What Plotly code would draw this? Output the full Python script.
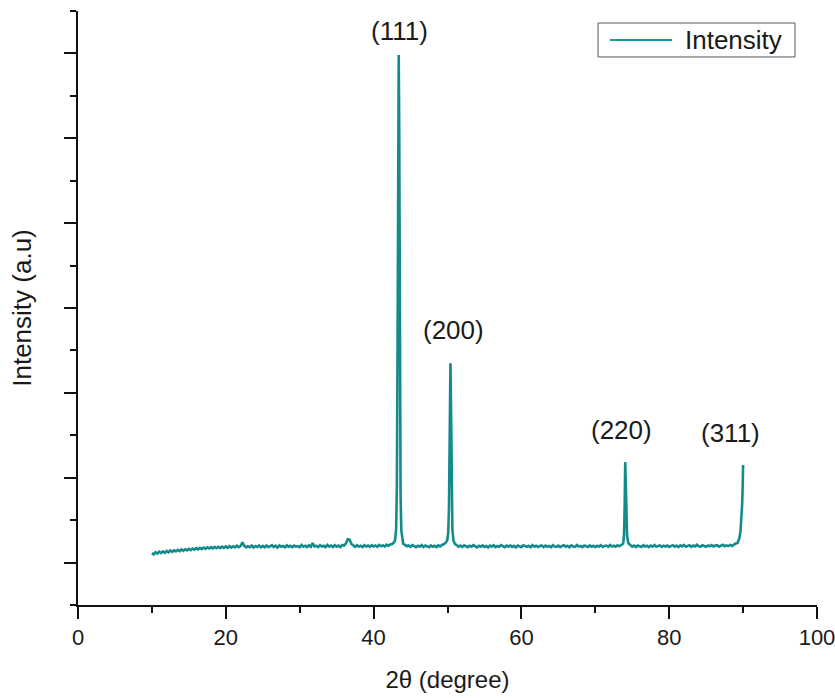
import plotly.graph_objects as go

# ---------------- data ----------------
scan_start = 10.0
scan_step = 0.25
# baseline intensity every 0.25 deg from 10 to 90 (None = covered by a peak list below)
base_10 = [612, 596, 622, 606, 627, 612, 632, 616, 637, 620, 642, 626, 644, 631, 650, 635, 654, 639, 657, 644]
base_15 = [662, 646, 666, 653, 670, 655, 674, 659, 677, 662, 680, 666, 682, 668, 684, 669, 686, 670, 688, 673]
base_20 = [690, 674, 694, 677, 692, 678, 699, 681, 694, 738, 697, 679, 692, 682, 700, 678, 695, 683, 702, 680]
base_25 = [696, 679, 701, 684, 692, 705, 682, 698, 677, 702, 686, 696, 680, 703, 685, 697, 681, 700, 687, 694]
base_30 = [681, 708, 688, 699, 682, 704, 686, 730, 688, 699, 683, 705, 689, 698, 682, 708, 687, 701, 684, 704]
base_35 = [688, 700, 684, 707, 700, 725, 775, 770, 720, 700, 686, 705, 688, 699, 684, 706, 690, 701, 685, 705]
base_40 = [690, 702, 686, 707, 692, 704, 688, 710, 696, 714, 718, 738, None, None, None, None, 722, 708, 693, 702]
base_45 = [686, 705, 689, 682, 699, 688, 707, 684, 701, 690, 681, 703, 687, 698, 683, 702, 690, 708, 715, 735]
base_50 = [None, None, None, None, 720, 704, 688, 700, 684, 703, 691, 682, 699, 687, 705, 688, 679, 697, 686, 702]
base_55 = [685, 696, 678, 700, 688, 704, 683, 695, 686, 706, 689, 681, 699, 687, 702, 684, 697, 679, 701, 688]
base_60 = [682, 703, 690, 686, 698, 681, 707, 688, 699, 684, 695, 702, 682, 700, 687, 696, 680, 705, 689, 685]
base_65 = [701, 683, 696, 704, 686, 698, 681, 702, 690, 685, 706, 688, 697, 682, 700, 689, 684, 703, 687, 698]
base_70 = [682, 699, 688, 705, 684, 696, 701, 686, 707, 690, 699, 687, 704, 692, 708, 722, None, None, 725, 706]
base_75 = [688, 700, 683, 702, 691, 685, 705, 689, 698, 682, 701, 688, 707, 686, 696, 703, 684, 699, 690, 702]
base_80 = [685, 697, 705, 688, 700, 682, 702, 691, 708, 687, 698, 704, 686, 701, 690, 710, 692, 688, 705, 695]
base_85 = [687, 702, 692, 707, 689, 700, 705, 688, 701, 709, 692, 703, 694, 708, 696, 714, 725, 732, None, None]
base_90 = [None]

# diffraction peaks (2theta, intensity)
peak_111_x = [42.9, 43.05, 43.15, 43.25, 43.33, 43.4, 43.47, 43.55, 43.65, 43.75, 43.9]
peak_111_y = [760, 900, 1400, 3200, 5800, 6480, 5600, 3000, 1300, 880, 740]
peak_200_x = [49.95, 50.1, 50.2, 50.3, 50.4, 50.48, 50.56, 50.66, 50.8]
peak_200_y = [760, 850, 1150, 2000, 2850, 2300, 1300, 900, 760]
peak_220_x = [73.8, 73.9, 73.97, 74.05, 74.12, 74.2, 74.3, 74.42]
peak_220_y = [740, 850, 1150, 1685, 1450, 1000, 820, 750]
peak_311_x = [89.3, 89.5, 89.65, 89.78, 89.88, 89.95, 90.0]
peak_311_y = [745, 790, 870, 1000, 1200, 1420, 1650]

peak_labels = ["(111)", "(200)", "(220)", "(311)"]
label_x = [43.5, 50.8, 73.6, 88.3]
label_y = [6764, 3241, 2062, 2027]

x_ticks = [0, 20, 40, 60, 80, 100]

# ---------------- assemble ----------------
baseline = (base_10 + base_15 + base_20 + base_25 + base_30 + base_35 + base_40 + base_45 +
            base_50 + base_55 + base_60 + base_65 + base_70 + base_75 + base_80 + base_85 + base_90)
pts = [(round(scan_start + scan_step * i, 2), v) for i, v in enumerate(baseline) if v is not None]
for px, py in [(peak_111_x, peak_111_y), (peak_200_x, peak_200_y),
               (peak_220_x, peak_220_y), (peak_311_x, peak_311_y)]:
    pts += list(zip(px, py))
pts.sort(key=lambda p: p[0])
xs = [p[0] for p in pts]
ys = [p[1] for p in pts]

LINE = "#138b8b"
SANS = "Liberation Sans, Arial, sans-serif"

fig = go.Figure()
fig.add_trace(go.Scatter(x=xs, y=ys, mode="lines", name="Intensity",
                         line=dict(color=LINE, width=2.6), showlegend=False))

for t, lx, ly in zip(peak_labels, label_x, label_y):
    fig.add_annotation(x=lx, y=ly, xref="x", yref="y", text=t, showarrow=False,
                       xanchor="center", yanchor="middle",
                       font=dict(family=SANS, size=26, color="#1a1a1a"))

# legend drawn as a box
fig.add_shape(type="rect", xref="paper", yref="paper", x0=0.7037, x1=0.9702, y0=0.9226, y1=0.9798,
              line=dict(color="#555555", width=1), fillcolor="white")
fig.add_shape(type="line", xref="paper", yref="paper", x0=0.7199, x1=0.8038, y0=0.9512, y1=0.9512,
              line=dict(color="#1a9a9a", width=2))
fig.add_annotation(x=0.8187, y=0.9512, xref="paper", yref="paper", text="Intensity", showarrow=False,
                   xanchor="left", yanchor="middle", font=dict(family=SANS, size=26, color="#1a1a1a"))

fig.update_layout(
    width=835, height=698,
    margin=dict(l=78, r=18, t=11, b=93),
    paper_bgcolor="white", plot_bgcolor="white",
    showlegend=False,
    xaxis=dict(range=[0, 100], tickvals=x_ticks, ticktext=[str(v) for v in x_ticks],
               automargin=False, ticklabeloverflow="allow",
               showgrid=False, zeroline=False, showline=True, linecolor="#111111", linewidth=2,
               ticks="outside", ticklen=12, tickwidth=2, tickcolor="#111111",
               minor=dict(tick0=10, dtick=20, ticks="outside", ticklen=6, tickwidth=2, tickcolor="#111111"),
               tickfont=dict(family=SANS, size=22, color="#1a1a1a"),
               title=dict(text="2θ (degree)", font=dict(family=SANS, size=24, color="#1a1a1a"), standoff=22)),
    yaxis=dict(range=[0, 7000], tick0=500, dtick=1000, showticklabels=False, automargin=False,
               showgrid=False, zeroline=False, showline=True, linecolor="#111111", linewidth=2,
               ticks="outside", ticklen=12, tickwidth=2, tickcolor="#111111",
               minor=dict(tick0=0, dtick=1000, ticks="outside", ticklen=6, tickwidth=2, tickcolor="#111111"),
               title=dict(text="Intensity (a.u)", font=dict(family=SANS, size=26, color="#1a1a1a"), standoff=25)),
)

fig.write_html("out.html")
